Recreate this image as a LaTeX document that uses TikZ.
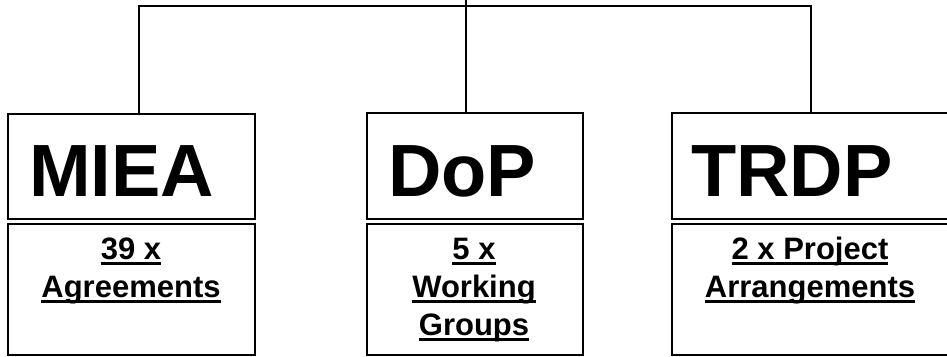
\documentclass[tikz,border=0pt]{standalone}
\usepackage{fontspec}
\setmainfont{Liberation Sans}
\usetikzlibrary{calc}
\newcommand\ulin[1]{\setbox0\hbox{#1}\rlap{\rule[-5.8pt]{\wd0}{2.8pt}}\box0}
\tikzset{
  boxpart/.style={draw=black, line width=2pt, rectangle, inner sep=0pt, anchor=north west},
  conn/.style={draw=black, line width=2pt},
  head/.style={font=\fontsize{74}{80}\selectfont\bfseries, inner sep=0pt, anchor=base west},
  sub/.style={font=\fontsize{31}{38}\selectfont\bfseries, inner sep=0pt, anchor=base, align=center}
}
\begin{document}
\begin{tikzpicture}[x=1pt,y=-1pt]
\useasboundingbox (0,0) rectangle (947,356);
% MIEA
\node[boxpart, minimum width=247pt, minimum height=105pt] (mieatop) at (7,113) {};
\node[boxpart, minimum width=247pt, minimum height=131pt] (mieabot) at (7,223) {};
% DoP
\node[boxpart, minimum width=216pt, minimum height=106pt] (doptop) at (366,112) {};
\node[boxpart, minimum width=216pt, minimum height=131pt] (dopbot) at (366,223) {};
% TRDP
\node[boxpart, minimum width=280pt, minimum height=106pt] (trdptop) at (671,112) {};
\node[boxpart, minimum width=280pt, minimum height=131pt] (trdpbot) at (671,223) {};
% headings
\node[head] (mieah) at (29,196) {MIEA};
\node[head] (doph) at (388,196) {DoP};
\node[head] (trdph) at (691,196) {TRDP};
% sub texts (base anchor = last line)
\node[sub] (mieas) at (131,297) {\ulin{39 x}\\\ulin{Agreements}};
\node[sub] (dops) at (474,335) {\ulin{5 x}\\\ulin{Working}\\\ulin{Groups}};
\node[sub] (trdps) at (810,297) {\ulin{2 x Project}\\\ulin{Arrangements}};
% connectors
\coordinate (topc) at (466,0);
\coordinate (bar) at (466,6);
\coordinate (mieac) at ($(mieatop.north west)+(132,0)$);
\coordinate (trdpc) at ($(trdptop.north west)+(140,0)$);
\draw[conn] (topc) -- (doptop.north -| topc);
\draw[conn] (mieac) -- (mieac |- bar) -- (trdpc |- bar) -- (trdpc);
\end{tikzpicture}
\end{document}
